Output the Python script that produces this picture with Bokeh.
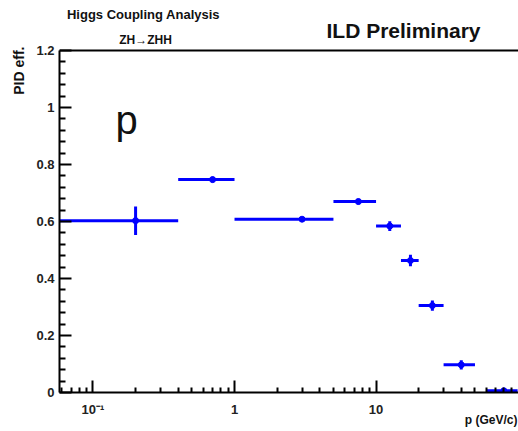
import math
from bokeh.plotting import figure
from bokeh.models import Range1d, FixedTicker, Label, Span, Title
from bokeh.embed import file_html
from bokeh.resources import INLINE

# ---- data ----
p_center = [0.2, 0.7, 3.0, 7.5, 12.5, 17.5, 25.0, 40.0, 80.0]
p_low = [0.05, 0.4, 1.0, 5.0, 10.0, 15.0, 20.0, 30.0, 60.0]
p_high = [0.4, 1.0, 5.0, 10.0, 15.0, 20.0, 30.0, 50.0, 100.0]
pid_eff = [0.603, 0.747, 0.608, 0.670, 0.584, 0.463, 0.305, 0.097, 0.006]
eff_err = [0.050, 0.010, 0.008, 0.010, 0.017, 0.020, 0.018, 0.016, 0.010]

x_ticks = [0.1, 1.0, 10.0]
x_tick_labels = ["10\u207b\u00b9", "1", "10"]
x_minor = [0.06, 0.07, 0.08, 0.09, 0.2, 0.3, 0.4, 0.5, 0.6, 0.7, 0.8, 0.9,
           2, 3, 4, 5, 6, 7, 8, 9, 20, 30, 40, 50, 60, 70, 80, 90]
y_ticks = [0.0, 0.2, 0.4, 0.6, 0.8, 1.0, 1.2]
y_tick_labels = ["0", "0.2", "0.4", "0.6", "0.8", "1", "1.2"]
y_minor = [0.04, 0.08, 0.12, 0.16, 0.24, 0.28, 0.32, 0.36, 0.44, 0.48, 0.52, 0.56,
           0.64, 0.68, 0.72, 0.76, 0.84, 0.88, 0.92, 0.96, 1.04, 1.08, 1.12, 1.16]
y_axis_max = 1.2

title_top = "Higgs Coupling Analysis"
title_sub = "ZH\u2192ZHH"
title_right = "ILD Preliminary"
panel_label = "p"
x_label = "p (GeV/c)"
y_label = "PID eff."

BLUE = "#0000ff"
FONT = "Liberation Sans"

# frame spans the whole top of the canvas so that header texts are not clipped;
# the axes themselves are bounded to [0, 1.2]
p = figure(width=518, height=431, x_axis_type="log",
           x_range=Range1d(0.058, 101.5), y_range=Range1d(0, 1.3754),
           output_backend="svg", toolbar_location=None,
           min_border_left=59, min_border_top=0, min_border_right=0,
           min_border_bottom=39)
p.title.visible = False
p.xgrid.visible = False
p.ygrid.visible = False
p.outline_line_color = None
p.background_fill_color = "white"
p.border_fill_color = "white"

# x axis
xa = p.xaxis[0]
xa.ticker = FixedTicker(ticks=x_ticks, minor_ticks=x_minor)
xa.major_label_overrides = {t: l for t, l in zip(x_ticks, x_tick_labels)}
xa.major_tick_in = 12
xa.major_tick_out = 0
xa.minor_tick_in = 5
xa.minor_tick_out = 0
xa.axis_line_width = 2
xa.major_tick_line_width = 2
xa.minor_tick_line_width = 2
xa.major_label_text_font = FONT
xa.major_label_text_font_style = "bold"
xa.major_label_text_font_size = "13px"
xa.major_label_text_color = "#222222"
xa.major_label_standoff = 9

# y axis
ya = p.yaxis[0]
ya.bounds = (0, y_axis_max)
ya.ticker = FixedTicker(ticks=y_ticks, minor_ticks=y_minor)
ya.major_label_overrides = {t: l for t, l in zip(y_ticks, y_tick_labels)}
ya.major_tick_in = 12
ya.major_tick_out = 0
ya.minor_tick_in = 6
ya.minor_tick_out = 0
ya.axis_line_width = 2
ya.major_tick_line_width = 2
ya.minor_tick_line_width = 2
ya.major_label_text_font = FONT
ya.major_label_text_font_style = "bold"
ya.major_label_text_font_size = "13px"
ya.major_label_text_color = "#222222"
ya.major_label_standoff = 5

# top edge of the plot box
p.add_layout(Span(location=y_axis_max, dimension="width", line_color="black", line_width=2))

# data: horizontal bin widths, vertical errors, markers
y_lo = [v - e for v, e in zip(pid_eff, eff_err)]
y_hi = [v + e for v, e in zip(pid_eff, eff_err)]
p.segment(x0=p_low, y0=pid_eff, x1=p_high, y1=pid_eff, line_color=BLUE, line_width=3)
p.segment(x0=p_center, y0=y_lo, x1=p_center, y1=y_hi, line_color=BLUE, line_width=3)
p.scatter(p_center, pid_eff, size=6, color=BLUE)

# text annotations inside the frame (screen units relative to the frame)
def lab(text, x, y, size, style="bold", align="center", baseline="middle"):
    p.add_layout(Label(x=x, y=y, x_units="screen", y_units="screen", text=text,
                       text_font=FONT, text_font_style=style,
                       text_font_size=size, text_align=align,
                       text_baseline=baseline, text_color="#111111"))

lab(title_top, 84, 378, "13px")
lab(title_sub, 86, 353, "12px")
lab(title_right, 344, 362, "21px")
lab(panel_label, 56, 273, "40px", style="normal", align="left", baseline="alphabetic")

# axis titles in the side panels
p.add_layout(Title(text=x_label, align="right", offset=1, vertical_align="top",
                   standoff=-14, text_font=FONT, text_font_style="bold",
                   text_font_size="12px", text_color="#111111"), "below")
p.add_layout(Title(text=y_label, align="right", offset=46, vertical_align="middle",
                   standoff=12, text_font=FONT, text_font_style="bold",
                   text_font_size="14px", text_color="#111111"), "left")

open("out.html", "w").write(file_html(p, INLINE))
